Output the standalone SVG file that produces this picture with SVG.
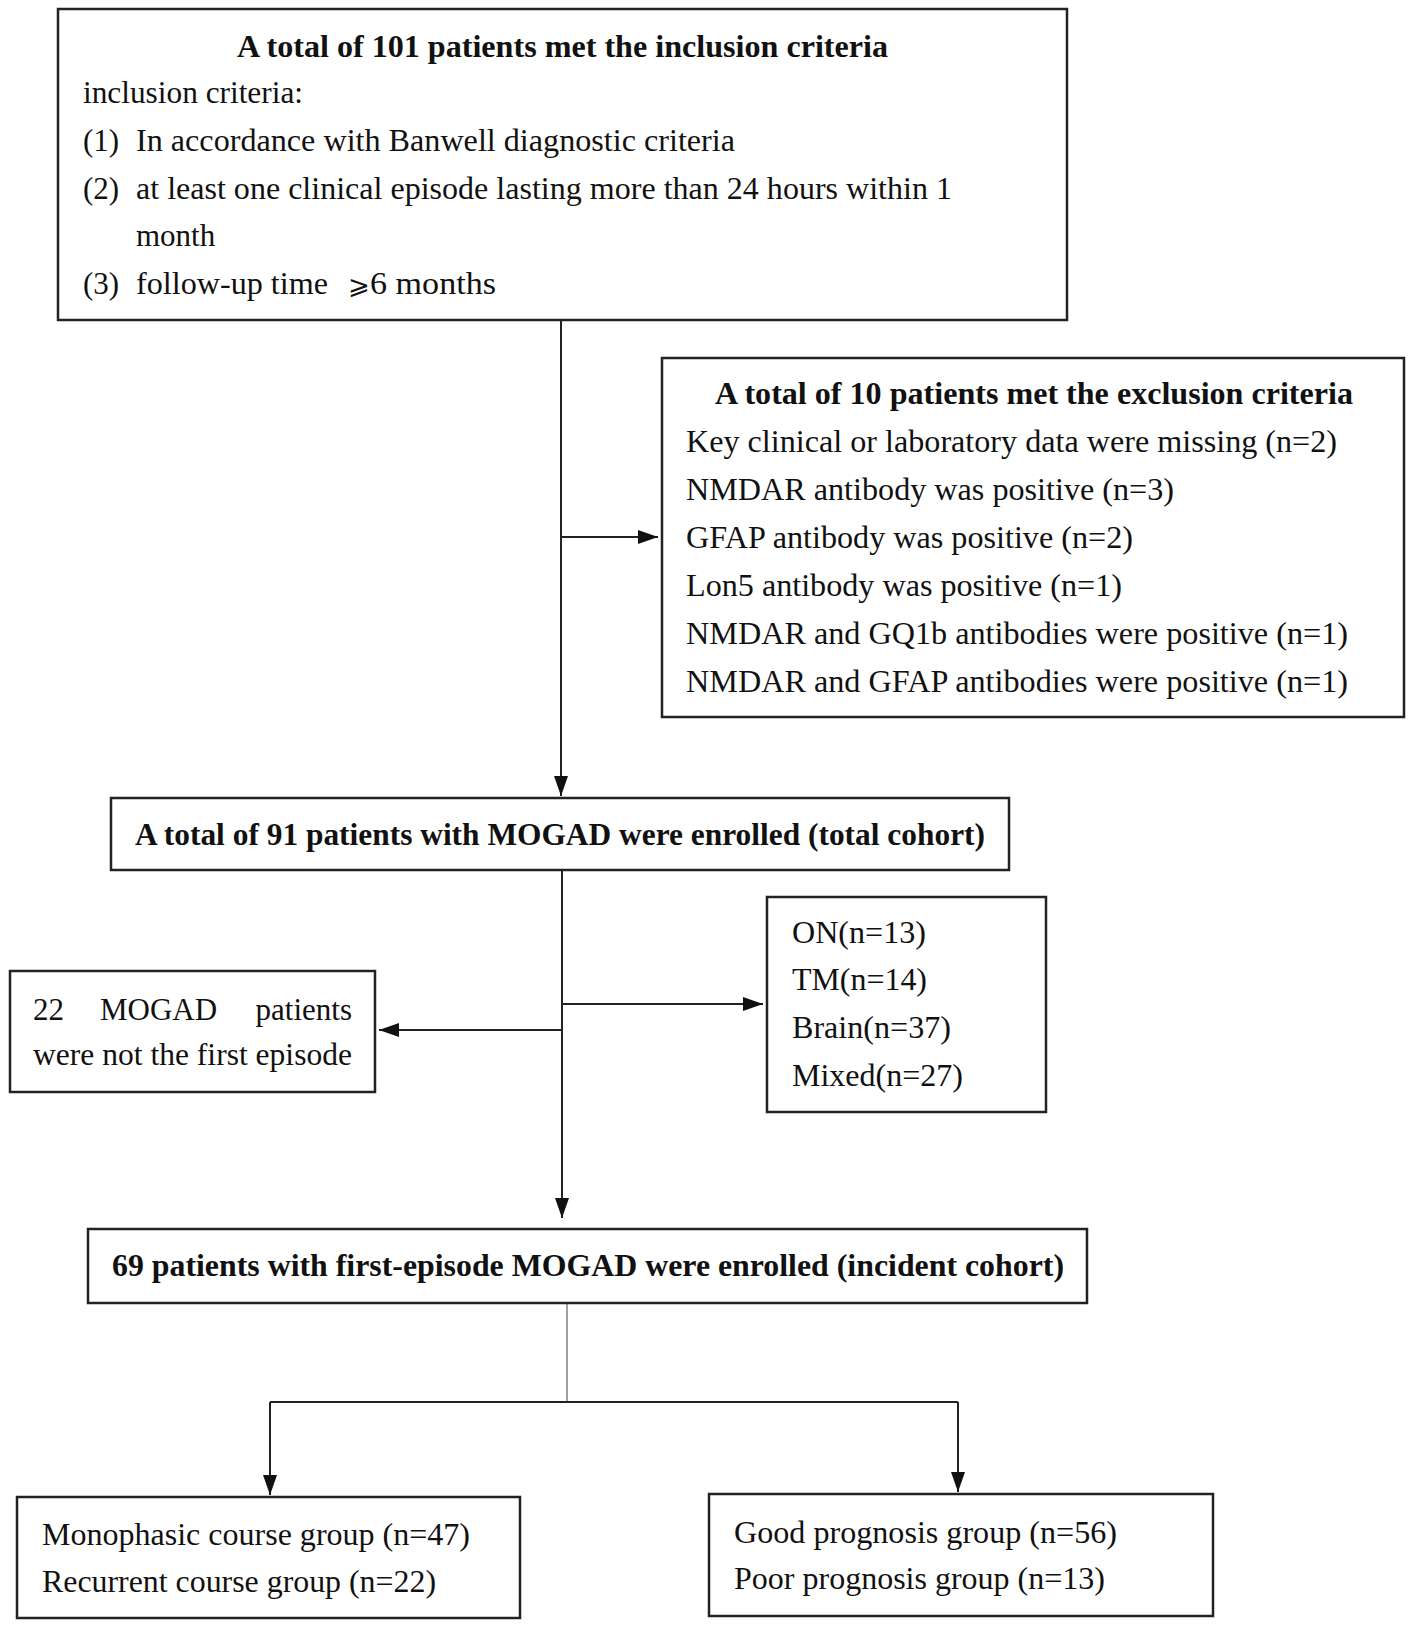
<svg xmlns="http://www.w3.org/2000/svg" width="1417" height="1630" viewBox="0 0 1417 1630">
<defs>
<marker id="ah" viewBox="0 0 20 14" refX="20" refY="7" markerWidth="20" markerHeight="14" markerUnits="userSpaceOnUse" orient="auto"><path d="M0,0 L20,7 L0,14 z" fill="#111"/></marker>
<style>
.box{fill:#fff;stroke:#222;stroke-width:2.5}
.t{font-family:"Liberation Serif","Times New Roman",serif;font-size:31px;fill:#111}
.b{font-weight:bold}
.c{fill:none;stroke:#222;stroke-width:2}
.g{fill:none;stroke:#8a8a8a;stroke-width:1.6}
</style>
</defs>
<rect width="1417" height="1630" fill="#fff"/>
<g id="connectors">
<path class="c" d="M561,321 V796" marker-end="url(#ah)"/>
<path class="c" d="M561,537 H658" marker-end="url(#ah)"/>
<path class="c" d="M562,871 V1218" marker-end="url(#ah)"/>
<path class="c" d="M562,1004 H763" marker-end="url(#ah)"/>
<path class="c" d="M562,1030 H379" marker-end="url(#ah)"/>
<path class="g" d="M567,1304 V1402"/>
<path class="c" d="M270,1402 H958"/>
<path class="c" d="M270,1402 V1495" marker-end="url(#ah)"/>
<path class="c" d="M958,1402 V1492" marker-end="url(#ah)"/>
</g>
<g id="inclusion">
<rect class="box" x="58" y="9" width="1009" height="311"/>
<text class="t b" x="237" y="57" textLength="651" lengthAdjust="spacingAndGlyphs">A total of 101 patients met the inclusion criteria</text>
<text class="t" x="83" y="103" textLength="220" lengthAdjust="spacingAndGlyphs">inclusion criteria:</text>
<text class="t" x="83" y="151">(1)</text>
<text class="t" x="136" y="151" textLength="599" lengthAdjust="spacingAndGlyphs">In accordance with Banwell diagnostic criteria</text>
<text class="t" x="83" y="199">(2)</text>
<text class="t" x="136" y="199" textLength="816" lengthAdjust="spacingAndGlyphs">at least one clinical episode lasting more than 24 hours within 1</text>
<text class="t" x="136" y="246">month</text>
<text class="t" x="83" y="294">(3)</text>
<text class="t" x="136" y="294" textLength="192" lengthAdjust="spacingAndGlyphs">follow-up time</text>
<text class="t" x="348" y="294"><tspan font-family="DejaVu Sans, sans-serif" font-size="26">⩾</tspan></text>
<text class="t" x="370" y="294" textLength="126" lengthAdjust="spacingAndGlyphs">6 months</text>
</g>
<g id="exclusion">
<rect class="box" x="662" y="358" width="742" height="359"/>
<text class="t b" x="715" y="404" textLength="638" lengthAdjust="spacingAndGlyphs">A total of 10 patients met the exclusion criteria</text>
<text class="t" x="686" y="452" textLength="651" lengthAdjust="spacingAndGlyphs">Key clinical or laboratory data were missing (n=2)</text>
<text class="t" x="686" y="500" textLength="488" lengthAdjust="spacingAndGlyphs">NMDAR antibody was positive (n=3)</text>
<text class="t" x="686" y="548" textLength="447" lengthAdjust="spacingAndGlyphs">GFAP antibody was positive (n=2)</text>
<text class="t" x="686" y="596" textLength="436" lengthAdjust="spacingAndGlyphs">Lon5 antibody was positive (n=1)</text>
<text class="t" x="686" y="644" textLength="662" lengthAdjust="spacingAndGlyphs">NMDAR and GQ1b antibodies were positive (n=1)</text>
<text class="t" x="686" y="692" textLength="662" lengthAdjust="spacingAndGlyphs">NMDAR and GFAP antibodies were positive (n=1)</text>
</g>
<g id="total">
<rect class="box" x="111" y="798" width="898" height="72"/>
<text class="t b" x="135" y="845" textLength="850" lengthAdjust="spacingAndGlyphs">A total of 91 patients with MOGAD were enrolled (total cohort)</text>
</g>
<g id="phenotypes">
<rect class="box" x="767" y="897" width="279" height="215"/>
<text class="t" x="792" y="943" textLength="134" lengthAdjust="spacingAndGlyphs">ON(n=13)</text>
<text class="t" x="792" y="990" textLength="135" lengthAdjust="spacingAndGlyphs">TM(n=14)</text>
<text class="t" x="792" y="1038" textLength="159" lengthAdjust="spacingAndGlyphs">Brain(n=37)</text>
<text class="t" x="792" y="1086" textLength="171" lengthAdjust="spacingAndGlyphs">Mixed(n=27)</text>
</g>
<g id="notfirst">
<rect class="box" x="10" y="971" width="365" height="121"/>
<text class="t" x="33" y="1020">22</text>
<text class="t" x="100" y="1020">MOGAD</text>
<text class="t" x="352" y="1020" text-anchor="end">patients</text>
<text class="t" x="33" y="1065" textLength="319" lengthAdjust="spacingAndGlyphs">were not the first episode</text>
</g>
<g id="incident">
<rect class="box" x="88" y="1229" width="999" height="74"/>
<text class="t b" x="112" y="1276" textLength="952" lengthAdjust="spacingAndGlyphs">69 patients with first-episode MOGAD were enrolled (incident cohort)</text>
</g>
<g id="course">
<rect class="box" x="17" y="1497" width="503" height="121"/>
<text class="t" x="42" y="1545" textLength="428" lengthAdjust="spacingAndGlyphs">Monophasic course group (n=47)</text>
<text class="t" x="42" y="1592" textLength="394" lengthAdjust="spacingAndGlyphs">Recurrent course group (n=22)</text>
</g>
<g id="prognosis">
<rect class="box" x="709" y="1494" width="504" height="122"/>
<text class="t" x="734" y="1543" textLength="383" lengthAdjust="spacingAndGlyphs">Good prognosis group (n=56)</text>
<text class="t" x="734" y="1589" textLength="371" lengthAdjust="spacingAndGlyphs">Poor prognosis group (n=13)</text>
</g>
</svg>
